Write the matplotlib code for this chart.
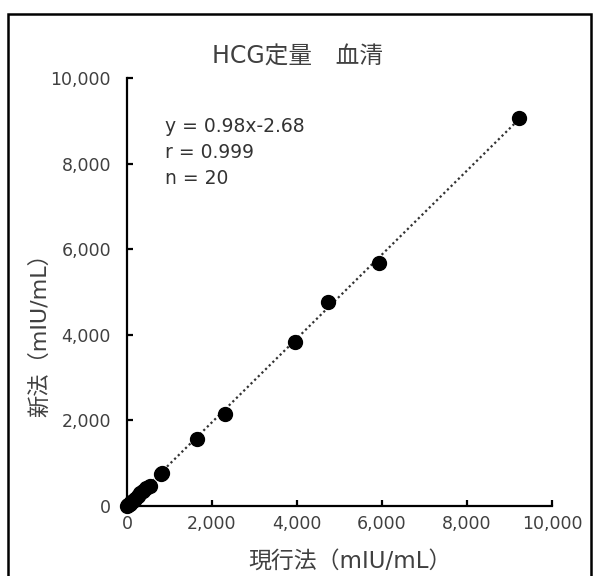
import numpy as np
import matplotlib.pyplot as plt
from matplotlib.patches import Rectangle
from matplotlib.ticker import FuncFormatter

plt.rcParams['font.family'] = ['DejaVu Sans', 'Noto Sans CJK JP']

# 現行法 vs 新法 (mIU/mL)
x_cur = [9220, 5925, 4723, 3946, 2297, 1637, 830, 790, 530, 440,
         370, 300, 250, 180, 130, 90, 60, 30, 15, 5]
y_new = [9065, 5680, 4766, 3832, 2150, 1565, 765, 748, 467, 420,
         355, 300, 235, 170, 120, 85, 55, 25, 12, 3]
slope, intercept = 0.98, -2.68
stats_lines = ['y = 0.98x-2.68', 'r = 0.999', 'n = 20']
ticks = [0, 2000, 4000, 6000, 8000, 10000]

W, H = 598, 576
fig = plt.figure(figsize=(W/100, H/100), dpi=100)
fig.patches.append(Rectangle((8/W, -0.01), 583/W, 1-14/H+0.01, transform=fig.transFigure,
                             fill=False, edgecolor='black', linewidth=1.8))

ax = fig.add_axes([127/W, 1-506/H, (552-127)/W, (506-78)/H])
ax.set_xlim(0, 10000)
ax.set_ylim(0, 10000)

xl = np.array([0, max(x_cur)])
ax.plot(xl, slope*xl+intercept, linestyle=(0, (1, 1.3)), color='#333333', linewidth=1.6, zorder=2)
ax.scatter(x_cur, y_new, s=100, color='black', zorder=3, clip_on=False)

for s in ['top', 'right']:
    ax.spines[s].set_visible(False)
for s in ['left', 'bottom']:
    ax.spines[s].set_linewidth(1.6)
ax.set_xticks(ticks)
ax.set_yticks(ticks)
fmt = FuncFormatter(lambda v, p: f'{int(v):,}')
ax.xaxis.set_major_formatter(fmt)
ax.yaxis.set_major_formatter(fmt)
ax.tick_params(direction='in', length=4, width=1.6, labelsize=12.5, colors='black',
               labelcolor='#404040')
ax.tick_params(axis='y', pad=11.5)
ax.tick_params(axis='x', pad=6.5)

# stats text, positions in pixels from top-left
for i, t in enumerate(stats_lines):
    fig.text(165/W, 1-(127 + i*25.5)/H, t, fontsize=13.5, color='#333333',
             va='center', ha='left')

fig.text(297/W, 1-57/H, 'HCG定量　血清', fontsize=17, color='#404040', ha='center', va='center')
fig.text(350/W, 1-561/H, '現行法（mIU/mL）', fontsize=16.5, color='#404040', ha='center', va='center')
fig.text(40/W, 1-330/H, '新法（mIU/mL）', fontsize=16, color='#404040', ha='center', va='center',
         rotation=90)

fig.savefig('out.png', dpi=100)
